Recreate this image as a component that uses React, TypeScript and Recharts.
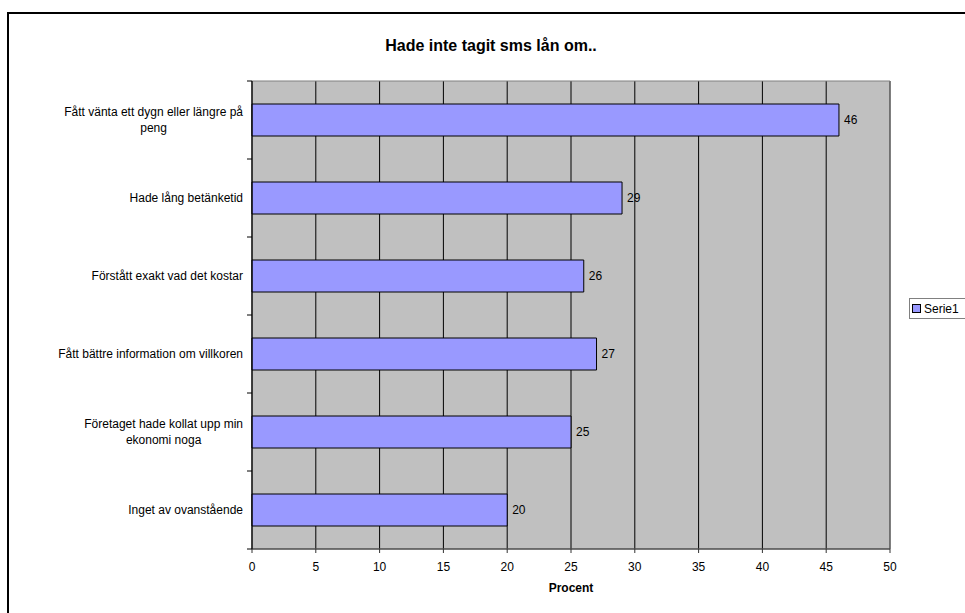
import React from 'react';
import { BarChart, Bar, XAxis, YAxis, CartesianGrid, LabelList, ReferenceArea } from 'recharts';

const categories = [
  'Fått vänta ett dygn eller längre på peng',
  'Hade lång betänketid',
  'Förstått exakt vad det kostar',
  'Fått bättre information om villkoren',
  'Företaget hade kollat upp min ekonomi noga',
  'Inget av ovanstående',
];
const serie1 = [46, 29, 26, 27, 25, 20];
const xTicks = [0, 5, 10, 15, 20, 25, 30, 35, 40, 45, 50];

const data = categories.map((name, i) => ({ name, Serie1: serie1[i] }));

const W = 965;
const H = 613;
const MARGIN = { top: 81, right: 75, bottom: 0, left: 0 };
const X_AXIS_H = 64;
const Y_AXIS_W = 252;
const BAND = (H - MARGIN.top - MARGIN.bottom - X_AXIS_H) / categories.length;
const FONT = "'Liberation Sans', Arial, sans-serif";
const FS = 12;

let ctx: CanvasRenderingContext2D | null = null;
const measure = (s: string) => {
  if (!ctx) ctx = document.createElement('canvas').getContext('2d');
  if (!ctx) return s.length * 6;
  ctx.font = `${FS}px ${FONT}`;
  return ctx.measureText(s).width;
};

// word wrap to a max pixel width, like the spreadsheet does
const wrap = (text: string, max: number) => {
  const words = text.split(' ');
  const lines: string[] = [];
  let cur = '';
  words.forEach(w => {
    const next = cur ? `${cur} ${w}` : w;
    if (cur && measure(next) > max) {
      lines.push(cur);
      cur = w;
    } else cur = next;
  });
  if (cur) lines.push(cur);
  return lines;
};

const CategoryTick = (props: any) => {
  const { x, y, payload, index } = props;
  const lines = wrap(String(payload.value), 205);
  const block = Math.max(...lines.map(measure));
  const cx = x - block / 2;
  const lh = 16;
  const axisX = x + 9;
  return (
    <g>
      <line x1={axisX - 5} x2={axisX} y1={y - BAND / 2} y2={y - BAND / 2} stroke="#000" />
      {index === categories.length - 1 && (
        <line x1={axisX - 5} x2={axisX} y1={y + BAND / 2} y2={y + BAND / 2} stroke="#000" />
      )}
      {lines.map((l, i) => (
        <text key={i} x={cx} y={y + (i - (lines.length - 1) / 2) * lh} dy="0.35em" textAnchor="middle"
          fontSize={FS} fontFamily={FONT} fill="#000">
          {l}
        </text>
      ))}
    </g>
  );
};

export default function App() {
  return (
    <div style={{ position: 'fixed', left: 0, top: 0, width: W, height: H, overflow: 'hidden', background: '#fff' }}>
      <div style={{ position: 'absolute', left: 7, top: 12, width: W, height: H, border: '2px solid #000', boxSizing: 'border-box' }} />
      <div style={{ position: 'absolute', left: 0, width: 982, top: 36, lineHeight: '20px', textAlign: 'center', fontFamily: FONT, fontWeight: 'bold', fontSize: 16 }}>
        Hade inte tagit sms lån om..
      </div>
      <BarChart width={W} height={H} data={data} layout="vertical" margin={MARGIN} barSize={32} style={{ position: 'absolute', left: 0, top: 0 }}>
        <CartesianGrid horizontal={false} stroke="#000" fill="#C0C0C0" fillOpacity={1} />
        <ReferenceArea x1={0} x2={50} fill="none" stroke="#808080" ifOverflow="visible" />
        <XAxis type="number" domain={[0, 50]} ticks={xTicks} interval={0} height={X_AXIS_H}
          axisLine={{ stroke: '#333' }} tickLine={{ stroke: '#333' }} tickSize={4} tickMargin={9}
          tick={{ fontSize: FS, fontFamily: FONT, fill: '#000' }}
          label={{ value: 'Procent', position: 'insideTop', offset: 34, fontSize: FS, fontWeight: 'bold', fontFamily: FONT, fill: '#000' }} />
        <YAxis type="category" dataKey="name" width={Y_AXIS_W} axisLine={{ stroke: '#000' }} tickLine={false}
          tickSize={0} tickMargin={9} interval={0} tick={<CategoryTick />} />
        <Bar dataKey="Serie1" fill="#9999FF" stroke="#000" strokeWidth={1} isAnimationActive={false}>
          <LabelList dataKey="Serie1" position="right" offset={5} fontSize={FS} fontFamily={FONT} fill="#000" />
        </Bar>
      </BarChart>
      <div style={{ position: 'absolute', left: 909, top: 298, width: 70, height: 21, border: '1px solid #808080', background: '#fff', boxSizing: 'border-box', display: 'flex', alignItems: 'center', paddingLeft: 2, fontFamily: FONT, fontSize: FS }}>
        <span style={{ width: 9, height: 9, background: '#9999FF', border: '1px solid #000', boxSizing: 'border-box', marginRight: 3, display: 'inline-block' }} />
        Serie1
      </div>
    </div>
  );
}
